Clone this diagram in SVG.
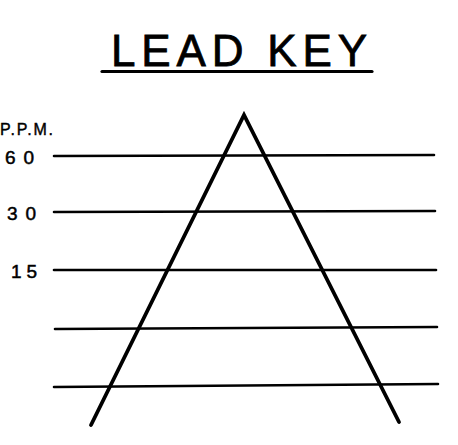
<svg xmlns="http://www.w3.org/2000/svg" width="458" height="445" viewBox="0 0 458 445">
<style>
.t{font-family:"Liberation Sans","DejaVu Sans",sans-serif;fill:#000;stroke:#000}
.h{stroke:#000;stroke-width:2.6;stroke-linecap:round;fill:none}
.leg{stroke:#000;stroke-width:3.8;stroke-linecap:round;stroke-linejoin:miter;fill:none}
</style>
<rect width="458" height="445" fill="#fff"/>
<g id="title">
<text class="t" x="111" y="66" font-size="44" stroke-width="0.8" textLength="256" lengthAdjust="spacing">LEAD KEY</text>
<line x1="102" y1="71.5" x2="372" y2="71.5" stroke="#000" stroke-width="3.2" stroke-linecap="round"/>
</g>
<g id="labels">
<text class="t" x="0" y="135" font-size="16" stroke-width="0.4" textLength="53" lengthAdjust="spacing">P.P.M.</text>
<text class="t" x="5" y="164" font-size="19" stroke-width="0.5" textLength="29" lengthAdjust="spacing">60</text>
<text class="t" x="7" y="220" font-size="19" stroke-width="0.5" textLength="29" lengthAdjust="spacing">30</text>
<text class="t" x="11" y="278" font-size="19" stroke-width="0.5" textLength="26" lengthAdjust="spacing">15</text>
</g>
<g id="connectors">
<line class="h" x1="54" y1="156" x2="434" y2="155"/>
<line class="h" x1="54" y1="212" x2="435" y2="211"/>
<line class="h" x1="54" y1="270" x2="436" y2="270"/>
<line class="h" x1="55" y1="329" x2="437" y2="327"/>
<line class="h" x1="54" y1="387" x2="438" y2="384"/>
</g>
<g id="triangle">
<polyline class="leg" points="91,425 244,115 399,422"/>
</g>
</svg>
